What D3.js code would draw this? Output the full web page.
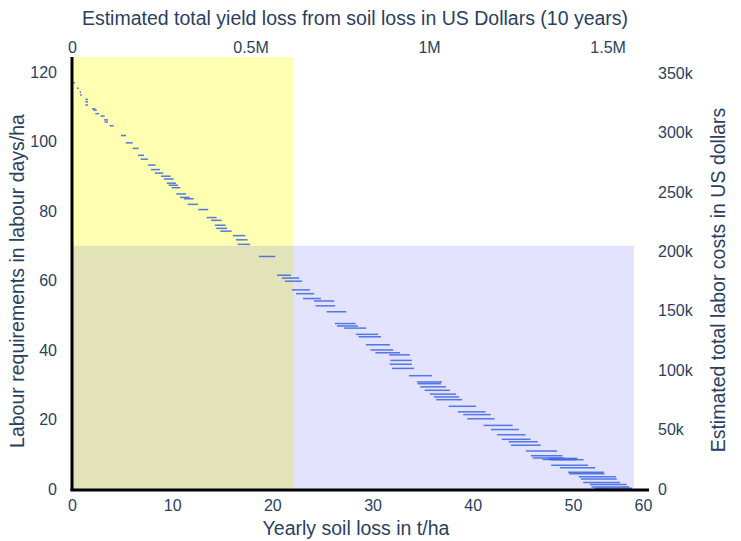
<!DOCTYPE html>
<html>
<head>
<meta charset="utf-8">
<script src="https://cdn.jsdelivr.net/npm/d3@7"></script>
<style>
  body { margin: 0; background: #fff; }
  text { font-family: "Liberation Sans", Arial, sans-serif; fill: #2a3f5f; }
</style>
</head>
<body>
<svg id="chart" width="741" height="541"></svg>
<script>
// Range of yearly soil loss (t/ha) for each labour requirement value
const soilLossLow = [
  0.13, 0.50, 0.77, 0.80, 1.33, 1.33, 1.33, 2.00, 2.13, 2.33,
  2.86, 3.19, 3.26, 3.76, 4.89, 5.36, 6.06, 6.59, 6.86, 7.58,
  7.88, 8.28, 8.88, 9.18, 9.45, 9.65, 9.95, 10.41, 10.78, 11.18,
  11.55, 12.60, 13.44, 13.90, 14.27, 14.40, 14.80, 16.07, 16.37, 16.54,
  18.66, 20.46, 20.96, 21.26, 21.96, 22.36, 23.05, 24.15, 24.32, 25.42,
  26.25, 26.45, 27.18, 28.34, 28.61, 29.34, 29.79, 30.29, 31.67, 31.79,
  31.71, 31.96, 33.63, 34.43, 34.50, 34.76, 35.20, 35.73, 36.13, 36.36,
  37.60, 38.52, 39.05, 39.45, 41.09, 41.82, 42.44, 42.91, 43.58, 43.81,
  45.31, 45.81, 45.98, 47.54, 46.98, 47.75, 47.83, 48.70, 49.53, 49.63,
  50.60, 50.80, 51.03, 51.70, 51.86, 52.16
];
const soilLossHigh = [
  0.30, 0.67, 0.90, 0.97, 1.60, 1.60, 1.60, 2.33, 2.47, 2.70,
  3.26, 3.59, 3.59, 4.16, 5.39, 6.06, 6.66, 7.19, 7.58, 8.35,
  8.78, 9.11, 9.85, 10.15, 10.38, 10.58, 10.81, 11.38, 11.75, 12.15,
  12.57, 13.60, 14.44, 14.94, 15.34, 15.47, 15.94, 17.30, 17.53, 17.79,
  20.29, 21.86, 22.68, 22.98, 23.75, 24.18, 24.85, 26.18, 26.28, 27.37,
  28.31, 28.54, 29.37, 30.57, 30.84, 31.74, 32.07, 32.73, 33.73, 33.93,
  33.93, 34.15, 35.93, 36.93, 36.83, 37.33, 37.72, 38.32, 38.65, 38.95,
  40.34, 41.27, 41.79, 42.19, 43.98, 44.61, 45.28, 45.78, 46.51, 46.79,
  48.42, 48.97, 49.15, 50.47, 50.30, 51.07, 51.50, 52.23, 53.09, 53.16,
  54.29, 54.39, 54.72, 55.36, 55.62, 55.89
];
const labourDays = [
  116.9, 115.3, 114.2, 113.4, 112.1, 111.4, 110.5, 109.4, 109.0, 108.0,
  107.3, 106.2, 105.6, 104.5, 101.7, 99.6, 98.0, 96.0, 94.9, 93.2,
  91.9, 90.9, 90.0, 89.2, 88.0, 87.4, 86.7, 84.9, 83.9, 83.5,
  81.9, 80.4, 78.1, 77.3, 75.9, 75.0, 74.2, 72.9, 71.7, 70.4,
  66.9, 61.5, 60.7, 59.8, 57.3, 56.2, 54.8, 54.1, 52.7, 51.0,
  47.6, 46.9, 46.3, 44.5, 43.8, 41.5, 40.0, 39.2, 38.6, 37.0,
  35.9, 34.7, 32.6, 30.8, 30.3, 29.4, 28.4, 27.3, 26.5, 25.7,
  23.8, 22.2, 21.4, 20.2, 18.3, 17.1, 15.6, 14.3, 13.6, 12.6,
  10.9, 9.55, 8.9, 8.8, 8.5, 8.45, 6.8, 6.1, 4.8, 4.4,
  3.5, 2.9, 1.9, 1.3, 0.6, 0.25
];

// Shaded zones: [x0, x1] in t/ha and [y0, y1] in labour days/ha
const yellowZoneX = [0, 22.1];
const yellowZoneY = [0, 124.3];
const blueZoneX = [0, 56.1];
const blueZoneY = [0, 70];

// Axis extents and tick labels
const soilLossMax = 57.6;
const labourMax = 124.3;
const yieldLossMax = 1616000;
const laborCostMax = 363500;

const xTickValues = [0, 10, 20, 30, 40, 50, 57];
const xTickLabels = ["0", "10", "20", "30", "40", "50", "60"];
const yTickValues = [0, 20, 40, 60, 80, 100, 120];
const yTickLabels = ["0", "20", "40", "60", "80", "100", "120"];
const topTickValues = [0, 500000, 1000000, 1500000];
const topTickLabels = ["0", "0.5M", "1M", "1.5M"];
const rightTickValues = [0, 50000, 100000, 150000, 200000, 250000, 300000, 350000];
const rightTickLabels = ["0", "50k", "100k", "150k", "200k", "250k", "300k", "350k"];

const plot = { left: 72, right: 649, top: 57, bottom: 489 };

const svg = d3.select("#chart");

const x = d3.scaleLinear().domain([0, soilLossMax]).range([plot.left, plot.right]);
const y = d3.scaleLinear().domain([0, labourMax]).range([plot.bottom, plot.top]);
const xTop = d3.scaleLinear().domain([0, yieldLossMax]).range([plot.left, plot.right]);
const yRight = d3.scaleLinear().domain([0, laborCostMax]).range([plot.bottom, plot.top]);

// Zones
svg.append("rect")
  .attr("x", x(yellowZoneX[0])).attr("y", y(yellowZoneY[1]))
  .attr("width", x(yellowZoneX[1]) - x(yellowZoneX[0]))
  .attr("height", y(yellowZoneY[0]) - y(yellowZoneY[1]))
  .attr("fill", "rgba(255,255,0,0.3)");
svg.append("rect")
  .attr("x", x(blueZoneX[0])).attr("y", y(blueZoneY[1]))
  .attr("width", x(blueZoneX[1]) - x(blueZoneX[0]))
  .attr("height", y(blueZoneY[0]) - y(blueZoneY[1]))
  .attr("fill", "rgba(0,0,255,0.11)");

// Soil loss ranges
const segments = labourDays.map((d, i) => ({ lo: soilLossLow[i], hi: soilLossHigh[i], days: d }));
svg.append("g").selectAll("line").data(segments).join("line")
  .attr("x1", d => x(d.lo)).attr("x2", d => x(d.hi))
  .attr("y1", d => y(d.days)).attr("y2", d => y(d.days))
  .attr("stroke", "royalblue").attr("stroke-width", 1.5).attr("stroke-opacity", 0.9);

// Axes
function styleAxis(g) {
  g.select(".domain").remove();
  g.selectAll(".tick line").remove();
  g.selectAll(".tick text").style("font-size", "16px").attr("fill", "#2a3f5f");
}

svg.append("g").attr("transform", `translate(0,${plot.bottom})`)
  .call(d3.axisBottom(x).tickValues(xTickValues).tickFormat((d, i) => xTickLabels[i]).tickSize(0).tickPadding(11))
  .call(styleAxis);
svg.append("g").attr("transform", `translate(${plot.left},0)`)
  .call(d3.axisLeft(y).tickValues(yTickValues).tickFormat((d, i) => yTickLabels[i]).tickSize(0).tickPadding(15))
  .call(styleAxis);
svg.append("g").attr("transform", `translate(0,${plot.top})`)
  .call(d3.axisTop(xTop).tickValues(topTickValues).tickFormat((d, i) => topTickLabels[i]).tickSize(0).tickPadding(4))
  .call(styleAxis);
svg.append("g").attr("transform", `translate(${plot.right},0)`)
  .call(d3.axisRight(yRight).tickValues(rightTickValues).tickFormat((d, i) => rightTickLabels[i]).tickSize(0).tickPadding(9))
  .call(styleAxis);

// Axis lines
svg.append("line")
  .attr("x1", plot.left).attr("x2", plot.left)
  .attr("y1", plot.top).attr("y2", plot.bottom + 2)
  .attr("stroke", "#000").attr("stroke-width", 3);
svg.append("line")
  .attr("x1", plot.left - 1.5).attr("x2", plot.right)
  .attr("y1", plot.bottom + 1).attr("y2", plot.bottom + 1)
  .attr("stroke", "#000").attr("stroke-width", 3);

// Titles
svg.append("text").attr("x", 355).attr("y", 25).attr("text-anchor", "middle")
  .style("font-size", "19.5px")
  .text("Estimated total yield loss from soil loss in US Dollars (10 years)");
svg.append("text").attr("x", 356).attr("y", 535).attr("text-anchor", "middle")
  .style("font-size", "19.5px")
  .text("Yearly soil loss in t/ha");
svg.append("text").attr("transform", "translate(24,281) rotate(-90)").attr("text-anchor", "middle")
  .style("font-size", "19.5px")
  .text("Labour requirements in labour days/ha");
svg.append("text").attr("transform", "translate(725,280) rotate(-90)").attr("text-anchor", "middle")
  .style("font-size", "19.5px")
  .text("Estimated total labor costs in US dollars");
</script>
</body>
</html>
